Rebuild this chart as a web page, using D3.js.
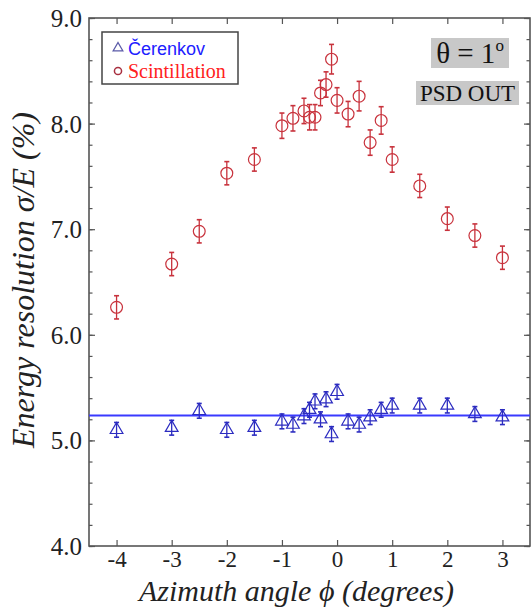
<!DOCTYPE html>
<html>
<head>
<meta charset="utf-8">
<script src="https://cdn.jsdelivr.net/npm/d3@7"></script>
<style>
  html, body { margin: 0; padding: 0; background: #fff; }
  svg { display: block; }
  .serif { font-family: "Liberation Serif", "DejaVu Serif", serif; }
</style>
</head>
<body>
<svg id="chart" width="532" height="611"></svg>
<script>
// ---- data ----
const phi = [-4, -3, -2.5, -2, -1.5, -1, -0.8, -0.6, -0.5, -0.4, -0.3, -0.2, -0.1, 0, 0.2, 0.4, 0.6, 0.8, 1, 1.5, 2, 2.5, 3];
const scintillation = [6.26, 6.67, 6.98, 7.53, 7.66, 7.98, 8.05, 8.12, 8.06, 8.06, 8.29, 8.37, 8.61, 8.22, 8.09, 8.26, 7.82, 8.03, 7.66, 7.41, 7.10, 6.94, 6.73];
const scintErr = [0.11, 0.11, 0.11, 0.11, 0.11, 0.12, 0.12, 0.12, 0.12, 0.12, 0.12, 0.12, 0.14, 0.12, 0.12, 0.14, 0.12, 0.13, 0.12, 0.11, 0.11, 0.11, 0.11];
const cerenkov = [5.10, 5.12, 5.28, 5.10, 5.12, 5.18, 5.15, 5.23, 5.29, 5.37, 5.20, 5.39, 5.06, 5.46, 5.18, 5.15, 5.22, 5.29, 5.33, 5.33, 5.33, 5.25, 5.22];
const cerErr = [0.07, 0.07, 0.07, 0.07, 0.07, 0.07, 0.07, 0.07, 0.07, 0.07, 0.07, 0.07, 0.07, 0.07, 0.07, 0.07, 0.07, 0.07, 0.07, 0.07, 0.07, 0.07, 0.07];
const cerenkovFit = 5.235;
const xTicks = [-4, -3, -2, -1, 0, 1, 2, 3];
const yTicks = [4.0, 5.0, 6.0, 7.0, 8.0, 9.0];
const seriesNames = ["Čerenkov", "Scintillation"];

// ---- layout ----
const L = 89, R = 530, T = 18, B = 546;
const svg = d3.select("#chart");
const x = d3.scaleLinear().domain([-4.5, 3.5]).range([L, R]);
const y = d3.scaleLinear().domain([4, 9]).range([B, T]);

const frameCol = "#555";

// minor y ticks
const yMinor = d3.range(4, 9.0001, 0.2).map(v => +v.toFixed(1));

// axes with inward ticks
const gB = svg.append("g").attr("transform", `translate(0,${B})`)
  .call(d3.axisBottom(x).tickValues(xTicks).tickSize(-6).tickPadding(5).tickFormat(d => String(d)));
const gT = svg.append("g").attr("transform", `translate(0,${T})`)
  .call(d3.axisTop(x).tickValues(xTicks).tickSize(-6).tickFormat(""));
const gLm = svg.append("g").attr("transform", `translate(${L},0)`)
  .call(d3.axisLeft(y).tickValues(yMinor).tickSize(-3.5).tickFormat(""));
const gRm = svg.append("g").attr("transform", `translate(${R},0)`)
  .call(d3.axisRight(y).tickValues(yMinor).tickSize(-3.5).tickFormat(""));
const gL = svg.append("g").attr("transform", `translate(${L},0)`)
  .call(d3.axisLeft(y).tickValues(yTicks).tickSize(-6).tickPadding(7).tickFormat(d3.format(".1f")));
const gR = svg.append("g").attr("transform", `translate(${R},0)`)
  .call(d3.axisRight(y).tickValues(yTicks).tickSize(-6).tickFormat(""));

[gB, gT, gL, gR, gLm, gRm].forEach(g => {
  g.attr("font-family", null).attr("font-size", null);
  g.select(".domain").remove();
  g.selectAll(".tick line").attr("stroke", frameCol).attr("stroke-width", 1.2);
  g.selectAll(".tick text").attr("class", "serif").attr("fill", "#222");
});
gB.selectAll(".tick text").attr("font-size", 23);
gL.selectAll(".tick text").attr("font-size", 25).attr("dy", "0.34em");

// frame
svg.append("rect").attr("x", L).attr("y", T).attr("width", R - L).attr("height", B - T)
  .attr("fill", "none").attr("stroke", frameCol).attr("stroke-width", 1.6);

// axis titles
svg.append("text").attr("class", "serif").attr("x", (L + R) / 2 - 13).attr("y", 601)
  .attr("text-anchor", "middle").attr("font-style", "italic")
  .attr("font-size", 30).attr("fill", "#222").text("Azimuth angle ϕ (degrees)");
svg.append("text").attr("class", "serif").attr("transform", `translate(34,280) rotate(-90)`)
  .attr("text-anchor", "middle").attr("font-style", "italic")
  .attr("font-size", 32).attr("fill", "#222").text("Energy resolution σ/E (%)");

// fit line
svg.append("line").attr("x1", L).attr("x2", R).attr("y1", y(cerenkovFit)).attr("y2", y(cerenkovFit))
  .attr("stroke", "#3a3aff").attr("stroke-width", 2);

// series drawing
function drawSeries(vals, errs, color, shape) {
  const g = svg.append("g");
  const data = phi.map((p, i) => ({ p, v: vals[i], e: errs[i] }));
  const cap = 2.5;
  data.forEach(d => {
    const cx = x(d.p), y1 = y(d.v + d.e), y2 = y(d.v - d.e);
    g.append("line").attr("x1", cx).attr("x2", cx).attr("y1", y1).attr("y2", y2)
      .attr("stroke", color).attr("stroke-width", 1.3);
    g.append("line").attr("x1", cx - cap).attr("x2", cx + cap).attr("y1", y1).attr("y2", y1)
      .attr("stroke", color).attr("stroke-width", 1.6);
    g.append("line").attr("x1", cx - cap).attr("x2", cx + cap).attr("y1", y2).attr("y2", y2)
      .attr("stroke", color).attr("stroke-width", 1.6);
  });
  g.selectAll("path.m").data(data).join("path")
    .attr("transform", d => `translate(${x(d.p)},${y(d.v)})`)
    .attr("d", d3.symbol().type(shape).size(shape === d3.symbolCircle ? 110 : 70))
    .attr("fill", "none").attr("stroke", color).attr("stroke-width", 1.2);
}
drawSeries(scintillation, scintErr, "#c8323c", d3.symbolCircle);
drawSeries(cerenkov, cerErr, "#2c2cc0", d3.symbolTriangle);

// legend
const lg = svg.append("g");
lg.append("rect").attr("x", 102).attr("y", 32).attr("width", 136).attr("height", 52)
  .attr("fill", "#fff").attr("stroke", "#444").attr("stroke-width", 1.5);
lg.append("path").attr("transform", "translate(118,48)")
  .attr("d", d3.symbol().type(d3.symbolTriangle).size(40))
  .attr("fill", "none").attr("stroke", "#5a5aa8").attr("stroke-width", 1.3);
lg.append("path").attr("transform", "translate(118,71)")
  .attr("d", d3.symbol().type(d3.symbolCircle).size(40))
  .attr("fill", "none").attr("stroke", "#a83040").attr("stroke-width", 1.5);
lg.append("text").attr("x", 128).attr("y", 55).attr("font-family", "Liberation Sans, Arial, sans-serif")
  .attr("font-size", 18).attr("fill", "#2020ff").text(seriesNames[0]);
lg.append("text").attr("class", "serif").attr("x", 128).attr("y", 78)
  .attr("font-size", 20).attr("fill", "#ff2020").text(seriesNames[1]);

// annotation boxes
svg.append("rect").attr("x", 431).attr("y", 38).attr("width", 78).attr("height", 30).attr("fill", "#c8c8c8");
const th = svg.append("text").attr("class", "serif").attr("x", 470).attr("y", 63).attr("text-anchor", "middle")
  .attr("font-size", 29).attr("fill", "#111");
th.append("tspan").text("θ = 1");
th.append("tspan").attr("font-size", 17).attr("dy", -12).text("o");

svg.append("rect").attr("x", 416).attr("y", 81).attr("width", 103).attr("height", 24).attr("fill", "#c8c8c8");
svg.append("text").attr("class", "serif").attr("x", 467.5).attr("y", 101).attr("text-anchor", "middle")
  .attr("font-size", 23).attr("fill", "#111").text("PSD OUT");
</script>
</body>
</html>
